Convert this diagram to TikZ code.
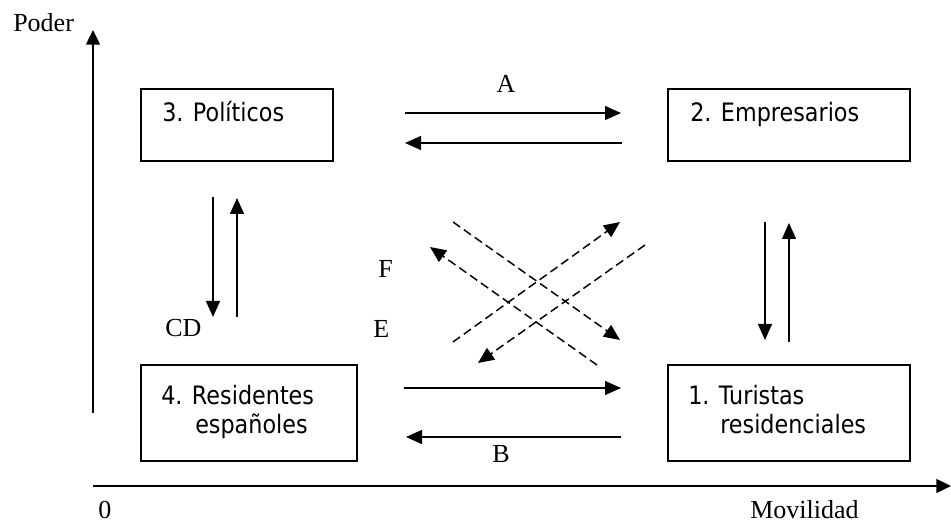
\documentclass[tikz,border=0pt]{standalone}
\usepackage{fontspec}
\setmainfont{Liberation Serif}
\newfontfamily\boxfont[FakeStretch=0.88]{DejaVu Sans}
\usetikzlibrary{arrows.meta}
\begin{document}
\begin{tikzpicture}[x=0.75pt,y=-0.75pt,
  boxnode/.style={draw, line width=1.25pt, rectangle, inner sep=0pt},
  boxtext/.style={anchor=base west, inner sep=0pt, font=\boxfont\fontsize{19pt}{22pt}\selectfont},
  lbl/.style={inner sep=0pt, font=\fontsize{19.5pt}{22pt}\selectfont},
  flow/.style={line width=1pt, -{Triangle[length=12pt,width=10.5pt]}},
  dflow/.style={line width=1.1pt, dash pattern=on 6.5pt off 3.5pt, -{Triangle[length=12pt,width=10.5pt]}}]
\useasboundingbox (0,0) rectangle (951,524);

% axes
\coordinate (yb) at (93,413);
\coordinate (yt) at (93,30);
\coordinate (xl) at (93,486);
\coordinate (xr) at (951,486);
\draw[line width=1pt, -{Triangle[length=11pt,width=10.5pt]}] (yb) -- (yt);
\draw[line width=1pt, -{Triangle[length=11pt,width=10.5pt]}] (xl) -- (xr);
\node[lbl, anchor=base west] (poder) at (13,32) {Poder};
\node[lbl, anchor=base west] (cero) at (98,518) {0};
\node[lbl, anchor=base west] (movil) at (750,518) {Movilidad};

% boxes
\node[boxnode, minimum width=192*0.75pt, minimum height=72*0.75pt] (b3) at (237,125) {};
\node[boxnode, minimum width=242*0.75pt, minimum height=72*0.75pt] (b2) at (789,125) {};
\node[boxnode, minimum width=216*0.75pt, minimum height=96*0.75pt] (b4) at (249,413) {};
\node[boxnode, minimum width=242*0.75pt, minimum height=96*0.75pt] (b1) at (789,413) {};

\node[boxtext] (t3) at (162,122) {3. Políticos};
\node[boxtext] (t2) at (690,122) {2. Empresarios};
\node[boxtext] (t4a) at (161,404) {4. Residentes};
\node[boxtext] (t4b) at (195,433) {españoles};
\node[boxtext] (t1a) at (688,404) {1. Turistas};
\node[boxtext] (t1b) at (720,433) {residenciales};

% horizontal arrows
\coordinate (a1s) at (405,113); \coordinate (a1e) at (621,113);
\coordinate (a2s) at (622,143); \coordinate (a2e) at (405,143);
\draw[flow] (a1s) -- (a1e);
\draw[flow] (a2s) -- (a2e);
\node[lbl, anchor=base] (la) at (506,93) {A};

\coordinate (b1s) at (404,388); \coordinate (b1e) at (621,388);
\coordinate (b2s) at (621,437); \coordinate (b2e) at (406,437);
\draw[flow] (b1s) -- (b1e);
\draw[flow] (b2s) -- (b2e);
\node[lbl, anchor=base] (lb) at (501,462) {B};

% vertical arrows left
\coordinate (c1s) at (213,197); \coordinate (c1e) at (213,317);
\coordinate (c2s) at (237,317); \coordinate (c2e) at (237,198);
\draw[flow] (c1s) -- (c1e);
\draw[flow] (c2s) -- (c2e);
\node[lbl, anchor=base west] (lcd) at (165,337) {CD};

% vertical arrows right
\coordinate (d1s) at (765,222); \coordinate (d1e) at (765,340);
\coordinate (d2s) at (789,342); \coordinate (d2e) at (789,223);
\draw[flow] (d1s) -- (d1e);
\draw[flow] (d2s) -- (d2e);

% dashed arrows
\coordinate (e1s) at (453,222); \coordinate (e1e) at (620,340);
\coordinate (e2s) at (597,365); \coordinate (e2e) at (430,247);
\coordinate (e3s) at (453,342); \coordinate (e3e) at (620,222);
\coordinate (e4s) at (645,245); \coordinate (e4e) at (478,363);
\draw[dflow] (e1s) -- (e1e);
\draw[dflow] (e2s) -- (e2e);
\draw[dflow] (e3s) -- (e3e);
\draw[dflow] (e4s) -- (e4e);
\node[lbl, anchor=base west] (lf) at (378,278) {F};
\node[lbl, anchor=base west] (le) at (373,338) {E};
\end{tikzpicture}
\end{document}
